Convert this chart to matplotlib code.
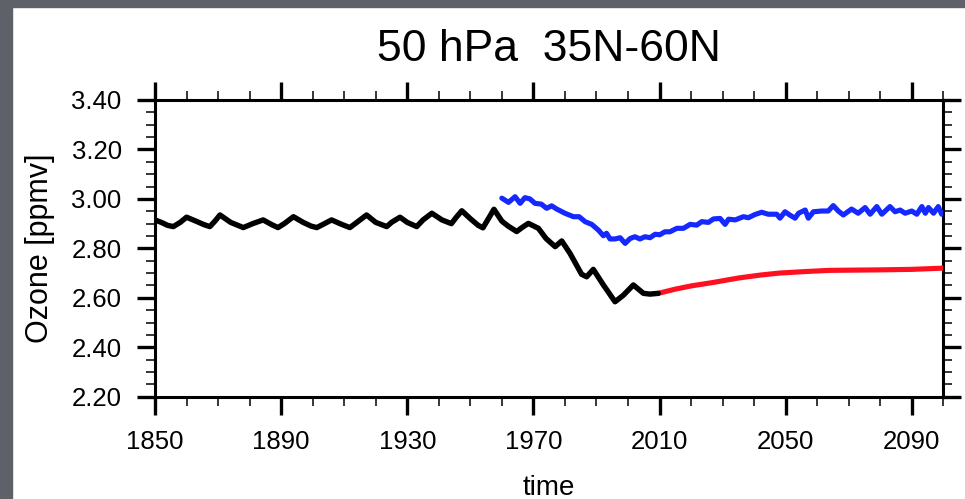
"""Ozone at 50 hPa, 35N-60N: historical, future and reference run."""
import matplotlib
matplotlib.use('Agg')
import matplotlib.pyplot as plt
from matplotlib.patches import Rectangle
from matplotlib.ticker import MultipleLocator, FormatStrFormatter

plt.rcParams['font.family'] = ['Liberation Sans', 'DejaVu Sans']

# historical (black)
hist_years = [1850, 1852, 1854, 1855.8, 1858, 1860, 1863, 1865.5, 1867.4, 1869, 1870.6,
              1874, 1878, 1881, 1884.3, 1887, 1889, 1891, 1893.9, 1897, 1899.5, 1901.3,
              1903, 1906, 1909, 1911.8, 1914, 1917.1, 1920, 1923.5, 1925, 1927.7, 1930,
              1933, 1935, 1937.8, 1941, 1944, 1945.5, 1947.3, 1950, 1952.5, 1954, 1955.5,
              1957.5, 1960, 1962, 1964.7, 1966.5, 1968.4, 1971.6, 1974, 1976.9, 1979,
              1981.6, 1985.3, 1986.9, 1989, 1992.2, 1995.9, 1998.5, 2001.7, 2004.9,
              2007, 2009.6]
hist_vals = [2.915, 2.905, 2.893, 2.888, 2.905, 2.926, 2.91, 2.896, 2.888, 2.91, 2.935,
             2.905, 2.884, 2.90, 2.915, 2.896, 2.884, 2.90, 2.928, 2.905, 2.89, 2.884,
             2.895, 2.915, 2.898, 2.884, 2.905, 2.935, 2.905, 2.888, 2.905, 2.926, 2.905,
             2.888, 2.915, 2.942, 2.915, 2.90, 2.925, 2.952, 2.92, 2.893, 2.883, 2.915,
             2.958, 2.91, 2.89, 2.868, 2.885, 2.901, 2.881, 2.84, 2.807, 2.83,
             2.78, 2.695, 2.685, 2.715, 2.652, 2.584, 2.61, 2.652, 2.618,
             2.615, 2.618]

# future projection (red)
fut_years = [2009.6, 2015, 2020, 2027, 2035, 2042, 2048, 2056, 2064, 2080, 2090, 2100]
fut_vals = [2.618, 2.635, 2.648, 2.662, 2.68, 2.692, 2.70, 2.706, 2.711, 2.713, 2.715, 2.72]

# reference run (blue)
ref_years = [1960, 1962.1, 1964.2, 1965.8, 1967.3, 1968.9, 1970.5, 1972.5, 1974.2, 1975.8,
             1977.4, 1980, 1982.7, 1984.5, 1986.4, 1988.5, 1990.6, 1992.2, 1993.2, 1994.3,
             1995.9, 1997.5, 1999.1, 2000.7, 2002.2, 2003.8, 2005.4, 2007, 2008.6, 2010.1,
             2011.7, 2013.3, 2015.5, 2017.6, 2019.7, 2021.8, 2023.4, 2025.5, 2027.1, 2029.2,
             2030.8, 2031.9, 2034, 2036.6, 2038.2, 2040.3, 2042.4, 2044.5, 2047.2, 2048.2,
             2049.8, 2051.4, 2053, 2054.1, 2056.2, 2057.2, 2058.8, 2061.5, 2063.5, 2065.1,
             2066.7, 2068.3, 2070.9, 2073, 2075.2, 2076.8, 2078.9, 2080.5, 2083.1, 2084.7,
             2086.3, 2087.9, 2090, 2091.6, 2093.2, 2094.3, 2095.3, 2096.9, 2098.4, 2099.5]
ref_vals = [3.003, 2.986, 3.009, 2.982, 3.005, 3.0, 2.982, 2.979, 2.962, 2.972,
            2.959, 2.942, 2.928, 2.928, 2.908, 2.897, 2.874, 2.851, 2.861, 2.838,
            2.838, 2.843, 2.82, 2.84, 2.847, 2.838, 2.847, 2.843, 2.857, 2.855,
            2.867, 2.867, 2.881, 2.881, 2.897, 2.894, 2.908, 2.905, 2.919, 2.921,
            2.897, 2.918, 2.915, 2.928, 2.924, 2.937, 2.946, 2.938, 2.938, 2.922,
            2.948, 2.934, 2.922, 2.942, 2.955, 2.922, 2.948, 2.951, 2.951, 2.973,
            2.951, 2.935, 2.959, 2.942, 2.965, 2.938, 2.969, 2.938, 2.969, 2.948,
            2.955, 2.942, 2.951, 2.938, 2.969, 2.942, 2.965, 2.942, 2.969, 2.938]

fig = plt.figure(figsize=(9.65, 4.99), dpi=100)
fig.patches.append(Rectangle((0, 0), 12 / 965, 1, transform=fig.transFigure,
                             color='#5f6168', zorder=0))
fig.patches.append(Rectangle((0, 1 - 7 / 499), 1, 7 / 499, transform=fig.transFigure,
                             color='#5f6168', zorder=0))

ax = fig.add_axes([155 / 965, 1 - 396.7 / 499, (943.3 - 155) / 965, 296.7 / 499])

line_kw = dict(solid_capstyle='round', solid_joinstyle='round', zorder=3)
ax.plot(ref_years, ref_vals, color='#1428ff', lw=3.7, **line_kw)
ax.plot(fut_years, fut_vals, color='#ff1020', lw=3.7, **line_kw)
ax.plot(hist_years, hist_vals, color='black', lw=3.9, **line_kw)

ax.set_xlim(1850, 2100)
ax.set_ylim(2.2, 3.4)
ax.xaxis.set_major_locator(MultipleLocator(40, offset=10))
ax.xaxis.set_minor_locator(MultipleLocator(10))
ax.yaxis.set_major_locator(MultipleLocator(0.2))
ax.yaxis.set_minor_locator(MultipleLocator(0.05))
ax.yaxis.set_major_formatter(FormatStrFormatter('%.2f'))

ax.tick_params(which='both', direction='out', top=True, right=True, labelsize=18.5)
ax.tick_params(which='major', length=13, width=2.4, pad=11)
ax.tick_params(which='minor', length=6.5, width=1.1)
for s in ax.spines.values():
    s.set_linewidth(2.2)

ax.set_title('50 hPa  35N-60N', fontsize=32, pad=28)
ax.set_xlabel('time', fontsize=20, labelpad=15)
ax.set_ylabel('Ozone [ppmv]', fontsize=22, labelpad=12)

fig.savefig('out.png', dpi=100)
